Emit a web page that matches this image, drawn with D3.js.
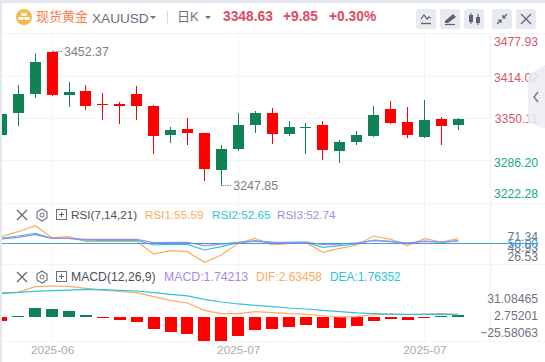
<!DOCTYPE html>
<html>
<head>
<meta charset="utf-8">
<script src="https://cdn.jsdelivr.net/npm/d3@7/dist/d3.min.js"></script>
<style>
  html, body { margin: 0; padding: 0; background: #fff; overflow: hidden; }
  svg { display: block; }
  text { font-family: "Liberation Sans", "Noto Sans CJK SC", sans-serif; }
</style>
</head>
<body>
<div id="chart"></div>
<script>
// candles, left to right
var opens  = [3324.7,3358.6,3387.1,3451.0,3385.6,3391.7,3371.9,3371.9,3387.1,3368.8,3324.7,3333.8,3327.8,3271.4,3303.4,3339.9,3358.2,3326.2,3335.4,3339.9,3300.4,3314.0,3323.2,3364.2,3344.5,3321.7,3349.0,3339.9];
var highs  = [3357.5,3400.8,3449.0,3452.37,3405.3,3400.8,3388.6,3374.9,3399.3,3370.4,3336.9,3350.6,3328.5,3309.5,3358.2,3361.2,3365.8,3346.0,3342.9,3346.0,3317.1,3330.8,3368.8,3376.4,3367.3,3378.0,3352.1,3350.6];
var lows   = [3323.5,3338.4,3381.0,3384.0,3367.3,3362.7,3347.5,3341.4,3347.5,3295.8,3312.5,3309.5,3254.7,3247.85,3300.4,3327.8,3311.0,3323.2,3295.8,3286.7,3282.1,3309.5,3321.7,3341.4,3320.1,3320.1,3309.5,3332.3];
var closes = [3356.7,3387.1,3435.8,3385.6,3390.1,3368.8,3370.4,3368.8,3368.8,3323.2,3332.3,3327.8,3273.0,3303.4,3339.9,3358.2,3326.2,3336.9,3336.9,3301.9,3314.0,3324.7,3355.1,3342.9,3324.7,3347.5,3338.78,3348.63];

var rsi1 = [57.9,64.0,71.34,56.7,57.9,51.8,52.2,52.2,52.2,36.7,40.8,39.5,26.53,35.5,49.7,55.9,47.7,49.7,50.6,38.7,43.6,47.7,58.7,54.6,46.9,55.5,51.4,55.59];
var rsi2 = [55.9,58.7,62.0,55.9,55.9,53.8,53.4,53.4,53.4,47.7,48.9,48.5,41.6,45.7,50.6,53.0,51.0,50.6,51.0,44.8,46.9,48.9,53.8,52.2,49.3,52.6,51.0,52.65];
var rsi3 = [55.0,57.1,60.4,55.9,55.9,54.6,54.6,54.6,54.6,50.6,51.0,51.0,46.9,48.9,51.0,52.2,51.0,51.0,51.4,48.1,48.9,50.2,53.0,51.8,50.2,52.2,51.4,52.74];

var macd = [-4.05,0.8,9.1,8.1,6.1,2.0,-0.8,-3.0,-5.1,-12.1,-15.2,-17.2,-24.6,-25.58,-19.2,-13.1,-12.1,-10.1,-8.1,-11.1,-11.1,-9.1,-4.0,-2.0,-3.0,-0.8,0.6,1.74213];
var dif  = [23.3,24.7,30.4,31.08,30.7,28.7,27.0,25.7,24.3,20.3,16.6,13.9,6.4,3.1,3.1,5.1,4.1,3.1,2.7,1.0,-0.3,0,2.0,2.7,2.0,2.7,3.1,2.63458];
var dea  = [24.0,24.7,25.7,26.4,27.0,27.7,27.4,26.7,26.0,24.3,22.6,21.0,17.6,14.9,12.9,11.5,10.2,8.8,7.8,6.4,5.1,3.8,3.1,2.7,2.4,2.4,2.7,1.76352];

var priceTicks = [3477.93,3414.02,3350.11,3286.20,3222.28];
var rsiTicks   = [71.34,48.93,26.53];
var macdTicks  = [31.08465,2.75201,-25.58063];
var timeIndex  = [3,14,25];
var timeLabels = ["2025-06","2025-07","2025-07"];

var width = 545, height = 362;
var red = "#ff0000", green = "#0f8356", gridColor = "#f3f4f8", labelGrey = "#6f7280";
var orange = "#ffa95e", cyan = "#2cc5dc", purple = "#a78ae6", plotLeft = 2, plotRight = 490;

var svg = d3.select("#chart").append("svg")
  .attr("width", width)
  .attr("height", height);

// page frame
svg.append("rect").attr("width", width).attr("height", height).attr("fill", "#fff");
svg.append("rect").attr("width", width).attr("height", 3).attr("fill", "#e4e8f0");
svg.append("rect").attr("width", 2).attr("height", height).attr("fill", "#e4e8f0");

var x = d3.scalePoint().domain(d3.range(closes.length)).range([1.3, 458.3]);
var yPrice = d3.scaleLinear().domain([3222.28, 3477.93]).range([202.3, 34.3]);
var yRsi = d3.scaleLinear().domain([26.53, 71.34]).range([262.3, 225.7]);
var yMacd = d3.scaleLinear().domain([-25.58063, 31.08465]).range([342, 286]);

svg.append("clipPath").attr("id", "plot").append("rect")
  .attr("x", plotLeft).attr("y", 33).attr("width", plotRight - plotLeft).attr("height", 308);

// grid
function hline(y, x2) {
  svg.append("line").attr("x1", plotLeft).attr("x2", x2 || width)
    .attr("y1", y).attr("y2", y).attr("stroke", gridColor).attr("stroke-width", 1);
}
[33.5, 203.5, 264.5, 341.5].forEach(function(y) { hline(y); });
priceTicks.slice(1, 4).forEach(function(t) { hline(Math.floor(yPrice(t)) + 0.5, plotRight); });
svg.selectAll(".vgrid").data(timeIndex).enter().append("line")
  .attr("x1", function(d) { return Math.floor(x(d)) + 0.5; })
  .attr("x2", function(d) { return Math.floor(x(d)) + 0.5; })
  .attr("y1", 33).attr("y2", 341)
  .attr("stroke", gridColor);
svg.append("line").attr("x1", plotRight + 0.5).attr("x2", plotRight + 0.5)
  .attr("y1", 33).attr("y2", 341).attr("stroke", "#eef0f4");

var plot = svg.append("g").attr("clip-path", "url(#plot)");

// candles
var candles = plot.selectAll(".candle").data(closes).enter().append("g");
candles.append("rect")
  .attr("x", function(d, i) { return Math.floor(x(i)); })
  .attr("width", 1)
  .attr("y", function(d, i) { return yPrice(highs[i]); })
  .attr("height", function(d, i) { return yPrice(lows[i]) - yPrice(highs[i]); })
  .attr("fill", function(d, i) { return d >= opens[i] ? green : red; });
candles.append("rect")
  .attr("x", function(d, i) { return Math.round(x(i) - 5.5); })
  .attr("width", 11)
  .attr("y", function(d, i) { return Math.round(yPrice(Math.max(d, opens[i]))); })
  .attr("height", function(d, i) { return Math.max(1, Math.round(Math.abs(yPrice(d) - yPrice(opens[i])))); })
  .attr("fill", function(d, i) { return d >= opens[i] ? green : red; });

// high / low notes
function note(i, value, label) {
  var px = x(i), py = Math.round(yPrice(value)) + 0.5;
  svg.append("line").attr("x1", px + 1).attr("x2", px + 11).attr("y1", py).attr("y2", py)
    .attr("stroke", "#8b8e9b").attr("stroke-dasharray", "1.5,1");
  svg.append("text").attr("x", px + 12).attr("y", py + 0.5).attr("dy", "0.35em")
    .attr("font-size", 12.4).attr("fill", "#7b7e8c").text(label);
}
note(3, 3452.37, "3452.37");
note(13, 3247.85, "3247.85");

// rsi
var rsiLine = d3.line().x(function(d, i) { return x(i); }).y(function(d) { return yRsi(d); });
[[rsi1, orange], [rsi2, cyan], [rsi3, purple]].forEach(function(s) {
  plot.append("path").attr("d", rsiLine(s[0])).attr("fill", "none")
    .attr("stroke", s[1]).attr("stroke-width", 1.2);
});
svg.append("line").attr("x1", plotLeft).attr("x2", 538)
  .attr("y1", Math.round(yRsi(50)) + 0.5).attr("y2", Math.round(yRsi(50)) + 0.5)
  .attr("stroke", "#3f9ee8");

// macd
plot.selectAll(".bar").data(macd).enter().append("rect")
  .attr("x", function(d, i) { return Math.round(x(i) - 6); })
  .attr("width", 12)
  .attr("y", function(d) { return Math.round(yMacd(Math.max(d, 0))); })
  .attr("height", function(d) { return Math.max(1, Math.round(Math.abs(yMacd(d) - yMacd(0)))); })
  .attr("fill", function(d) { return d >= 0 ? green : red; });
var macdLine = d3.line().x(function(d, i) { return x(i); }).y(function(d) { return yMacd(d); });
[[dif, orange], [dea, cyan]].forEach(function(s) {
  plot.append("path").attr("d", macdLine(s[0])).attr("fill", "none")
    .attr("stroke", s[1]).attr("stroke-width", 1.2);
});

// right axes, the first and last labels sit inside the panel
function rightAxis(scale, ticks, fmt, shifts, fill) {
  var g = svg.append("g").attr("transform", "translate(538,0)")
    .call(d3.axisLeft(scale).tickValues(ticks).tickSize(0).tickPadding(0).tickFormat(fmt));
  g.select(".domain").remove();
  g.selectAll("text")
    .attr("font-size", 12.2)
    .attr("font-family", null)
    .attr("fill", fill)
    .attr("y", function(d, i) { return shifts[i]; });
  return g;
}
rightAxis(yPrice, priceTicks, d3.format(".2f"), [7.3, 1.7, 0.7, 2.4, -8.3],
  function(d) { return d > 3300 ? "#d9566c" : "#11a98a"; });
rightAxis(yRsi, rsiTicks, d3.format(".2f"), [11, 3.7, -5.6], labelGrey);
rightAxis(yRsi, [50], d3.format(".2f"), [0], "#3f9ee8");
rightAxis(yMacd, macdTicks, d3.format(".5f"), [12.7, 1.5, -9.3], labelGrey);

// time axis
var timeAxis = svg.append("g").attr("transform", "translate(0,350)")
  .call(d3.axisBottom(x).tickValues(timeIndex).tickSize(0).tickPadding(0)
    .tickFormat(function(d) { return timeLabels[timeIndex.indexOf(d)]; }));
timeAxis.select(".domain").remove();
timeAxis.selectAll("text").attr("font-size", 11.8).attr("font-family", null)
  .attr("fill", "#a9abb5").attr("y", 0).attr("dy", "0.35em");

// side tab
svg.append("polygon").attr("points", "545,65 528,75 528,123 545,128")
  .attr("fill", "#ebebf3").attr("opacity", 0.85);
svg.append("path").attr("d", "M538,92 L534,97 L538,102").attr("fill", "none")
  .attr("stroke", "#7c7f8c").attr("stroke-width", 1.6);

// header
function label(px, py, str, size, fill, weight) {
  return svg.append("text").attr("x", px).attr("y", py).attr("dy", "0.35em")
    .attr("font-size", size).attr("fill", fill).attr("font-weight", weight || null).text(str);
}
function caret(px, py) {
  svg.append("path").attr("d", "M" + (px - 3) + "," + py + " h6 l-3,3 z").attr("fill", "#6f7280");
}
svg.append("circle").attr("cx", 24).attr("cy", 17).attr("r", 8).attr("fill", "#f1ba4c");
svg.append("rect").attr("x", 21.5).attr("y", 13).attr("width", 5).attr("height", 3).attr("fill", "#fff");
svg.append("rect").attr("x", 18.5).attr("y", 17).attr("width", 5).attr("height", 3).attr("fill", "#fff");
svg.append("rect").attr("x", 24.5).attr("y", 17).attr("width", 5).attr("height", 3).attr("fill", "#fff");
label(36, 16.5, "现货黄金", 13, "#ff7d4d");
label(92, 18, "XAUUSD", 13.6, "#6b6e7c");
caret(153, 16);
svg.append("line").attr("x1", 167.5).attr("x2", 167.5).attr("y1", 11).attr("y2", 24).attr("stroke", "#d5d8e0");
label(177, 16, "日K", 13, "#6b6e7c");
caret(208, 16);
label(223, 16.5, "3348.63", 13.8, "#df4a5e", "bold");
label(283, 16.5, "+9.85", 13.8, "#df4a5e", "bold");
label(329, 16.5, "+0.30%", 13.8, "#df4a5e", "bold");

// toolbar buttons
var buttons = [416, 440, 464, 492, 516];
svg.selectAll(".btn").data(buttons).enter().append("rect")
  .attr("x", function(d) { return d; }).attr("y", 9)
  .attr("width", 20).attr("height", 20).attr("rx", 3).attr("fill", "#e8eaf1");
var ink = "#5f6270";
function stroke(d, w) {
  svg.append("path").attr("d", d).attr("fill", "none").attr("stroke", ink).attr("stroke-width", w || 1.2);
}
stroke("M421,19 L424,15 L427,19 L429,17 L431,18");
stroke("M421,23.5 H431", 1.4);
svg.append("path").attr("d", "M445,21 L453,14 L456,17 L448,23 L445,23 Z").attr("fill", ink);
stroke("M445,24.5 H455");
svg.append("rect").attr("x", 469).attr("y", 15).attr("width", 4).attr("height", 7).attr("fill", ink);
svg.append("rect").attr("x", 476).attr("y", 17).attr("width", 4).attr("height", 6).attr("fill", ink);
stroke("M471,13 V24 M478,14 V25", 1);
stroke("M497,24 L501,20 M501,23 V20 H498 M507,14 L503,18 M503,15 V18 H506");
stroke("M521,14 L531,24 M531,14 L521,24");

// pane headers
function paneHead(py, items) {
  stroke("M17," + (py - 5) + " L27," + (py + 5) + " M27," + (py - 5) + " L17," + (py + 5));
  svg.append("polygon").attr("fill", "none").attr("stroke", "#6b6e7c").attr("stroke-width", 1.1)
    .attr("points", [[42, py - 6], [47, py - 3], [47, py + 3], [42, py + 6], [37, py + 3], [37, py - 3]].join(" "));
  svg.append("circle").attr("cx", 42).attr("cy", py).attr("r", 2).attr("fill", "none")
    .attr("stroke", "#6b6e7c");
  svg.append("rect").attr("x", 56.5).attr("y", py - 5.5).attr("width", 10).attr("height", 10)
    .attr("fill", "none").attr("stroke", "#6b6e7c");
  stroke("M59," + (py - 0.5) + " H64 M61.5," + (py - 3) + " V" + (py + 2), 1);
  items.forEach(function(it) { label(it[0], py, it[1], it[3], it[2]); });
}
paneHead(215, [[71, "RSI(7,14,21)", "#4b4e5a", 11.7], [145, "RSI1:55.59", orange, 11.7], [212, "RSI2:52.65", cyan, 11.7], [277, "RSI3:52.74", purple, 11.7]]);
paneHead(277, [[71, "MACD(12,26,9)", "#4b4e5a", 12.2], [164, "MACD:1.74213", purple, 12.3], [256, "DIF:2.63458", orange, 12], [330, "DEA:1.76352", cyan, 11.9]]);
</script>
</body>
</html>
